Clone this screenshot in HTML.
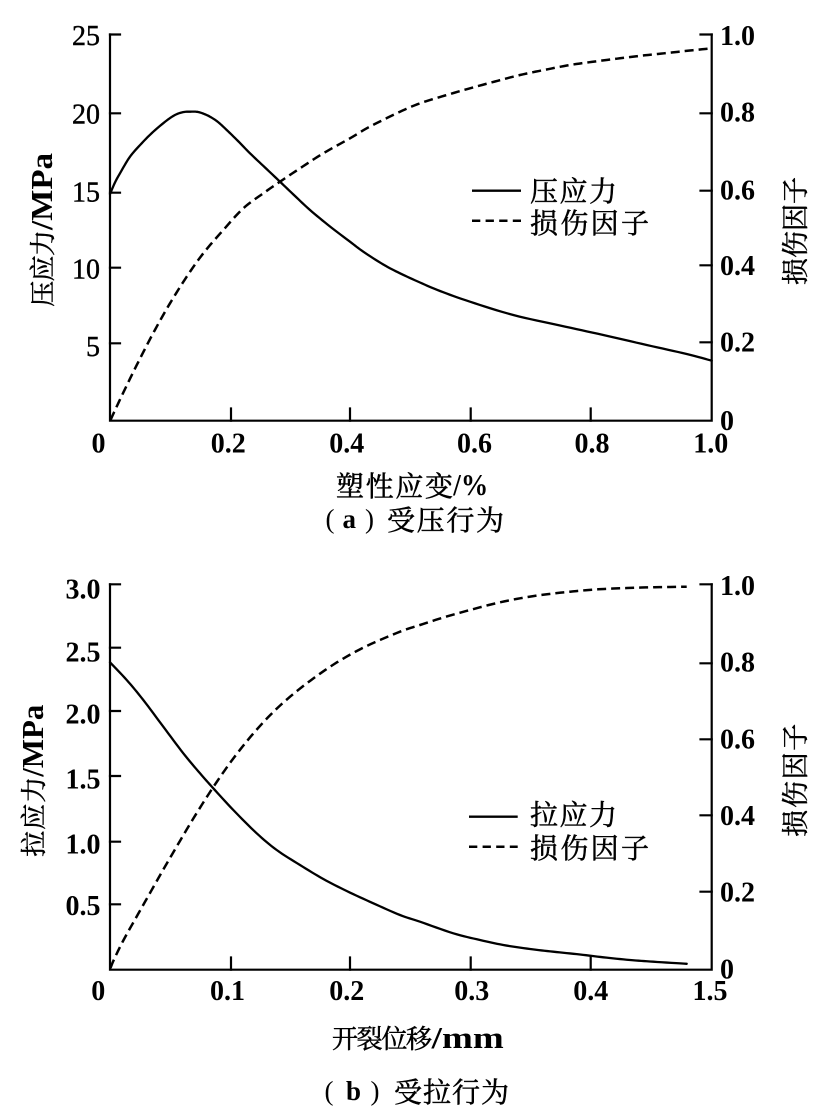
<!DOCTYPE html>
<html>
<head>
<meta charset="utf-8">
<style>
  html,body{margin:0;padding:0;background:#fff;}
  svg{display:block;}
  .num{font-family:"Liberation Serif",serif;font-size:28px;font-weight:bold;fill:#000;}
  .numr{font-family:"Liberation Serif",serif;font-size:28px;font-weight:normal;fill:#000;stroke:#000;stroke-width:0.4;}
  .cjk{font-family:"Liberation Serif","Noto Serif CJK SC","Noto Sans CJK SC",serif;fill:#000;stroke:#000;stroke-width:0.5;}
  .lat{font-family:"Liberation Serif",serif;font-weight:bold;fill:#000;}
  .ax{stroke:#000;stroke-width:2.2;fill:none;stroke-linecap:square;}
  .sol{stroke:#000;stroke-width:2.3;fill:none;stroke-linejoin:round;stroke-linecap:round;}
  .dsh{stroke:#000;stroke-width:2.5;fill:none;stroke-dasharray:9 5;stroke-linejoin:round;}
</style>
</head>
<body>
<svg width="833" height="1113" viewBox="0 0 833 1113" xmlns="http://www.w3.org/2000/svg">
<rect x="0" y="0" width="833" height="1113" fill="#fff"/>

<!-- ================= PANEL A ================= -->
<path class="ax" d="M110,34.5 V420.7 H711.7 V34.5"/>
<path class="ax" d="M110,34.5 H120 M110,113.3 H120 M110,192.7 H120 M110,267.7 H120 M110,343.3 H120"/>
<path class="ax" d="M711.7,34.5 H700.5 M711.7,113.3 H700.5 M711.7,190.7 H700.5 M711.7,265.3 H700.5 M711.7,342.3 H700.5"/>
<path class="ax" d="M231,420.7 V408.5 M350,420.7 V408.5 M470.7,420.7 V408.5 M590.7,420.7 V408.5"/>

<g class="numr" text-anchor="end">
<text x="100" y="45">25</text>
<text x="100" y="123.3">20</text>
<text x="100" y="201.7">15</text>
<text x="100" y="278.3">10</text>
<text x="100" y="356">5</text>
</g>
<g class="num" text-anchor="start">
<text x="720" y="45">1.0</text>
<text x="720" y="121.7">0.8</text>
<text x="720" y="199.3">0.6</text>
<text x="720" y="275">0.4</text>
<text x="720" y="351.7">0.2</text>
<text x="720" y="430">0</text>
</g>
<g class="num" text-anchor="middle">
<text x="98.5" y="452.5">0</text>
<text x="228.3" y="452.5">0.2</text>
<text x="346.7" y="452.5">0.4</text>
<text x="474.5" y="452.5">0.6</text>
<text x="592" y="452.5">0.8</text>
<text x="710.8" y="452.5">1.0</text>
</g>

<polyline class="sol smooth" points="110,194 115,182.5 120,173.3 130,156.7 141.7,143.3 153.3,131.7 166.7,120.5 176,114.5 184,112 190,111.7 197,111.8 203,113.5 210,116.7 218,122 226.7,130 238,141 250,153.3 265,167.5 280,181.7 295,196 310,210 330,226.5 350,241.7 363.3,251.7 383.3,264.5 400,273.3 420,282.5 440,291 470,301.7 513.3,315 560,325.5 603.3,335 646.7,345 686.7,354 711.7,360.7"/>
<polyline class="dsh smooth" points="110.5,420 120,399.5 133.3,372 146.7,345.5 156.7,326.7 170,303.3 186.7,276.7 203.3,253.3 223.3,230 243.3,208.3 263.3,193.3 280,181.7 300,168.3 323.3,153.3 350,138.3 366.7,128.3 383,120 400,111.7 420,103.3 445,95.5 470,88.3 495,81.5 520,75 545,69.8 570,65 595,61.5 620,58.3 645,55.3 670,52.7 690,50.5 711.7,48.3"/>

<line class="sol" x1="472" y1="190.7" x2="521" y2="190.7" style="stroke-linecap:butt"/>
<line class="dsh" x1="472" y1="220.7" x2="521" y2="220.7" style="stroke-dasharray:8.3 5.3"/>
<text class="cjk" x="530" y="201" font-size="28" textLength="87">压应力</text>
<text class="cjk" x="530" y="233" font-size="28" textLength="119">损伤因子</text>

<g transform="translate(52,0) rotate(-90)">
  <text class="cjk" x="-306.7" y="0" font-size="26" textLength="76.7">压应力</text>
  <text class="lat" x="-230" y="0" font-size="31" textLength="77" lengthAdjust="spacingAndGlyphs">/MPa</text>
</g>
<g transform="translate(805,0) rotate(-90)">
  <text class="cjk" x="-285" y="0" font-size="27" textLength="108">损伤因子</text>
</g>
<text class="cjk" x="336" y="496" font-size="28" textLength="117">塑性应变</text>
<text class="lat" x="453.3" y="495" font-size="31" textLength="35" lengthAdjust="spacingAndGlyphs">/%</text>

<text class="lat" x="325.5" y="528" font-size="27" style="font-weight:normal">(</text>
<text class="lat" x="342.5" y="528" font-size="27">a</text>
<text class="lat" x="365" y="528" font-size="27" style="font-weight:normal">)</text>
<text class="cjk" x="387" y="530" font-size="28" textLength="117">受压行为</text>

<!-- ================= PANEL B ================= -->
<path class="ax" d="M110,584.3 V969.7 H711.7 V584.3"/>
<path class="ax" d="M110,584.3 H120 M110,647.7 H120 M110,711 H120 M110,776 H120 M110,841.7 H120 M110,904.3 H120"/>
<path class="ax" d="M711.7,584.3 H700.5 M711.7,663.3 H700.5 M711.7,739.3 H700.5 M711.7,815.3 H700.5 M711.7,891.7 H700.5"/>
<path class="ax" d="M231,969.7 V957.5 M350,969.7 V957.5 M470.7,969.7 V957.5 M590.7,969.7 V957.5"/>

<g class="num" text-anchor="end">
<text x="100.5" y="598.3">3.0</text>
<text x="100.5" y="661.7">2.5</text>
<text x="100.5" y="723.3">2.0</text>
<text x="100.5" y="788.3">1.5</text>
<text x="100.5" y="853.3">1.0</text>
<text x="100.5" y="915">0.5</text>
</g>
<g class="num" text-anchor="start">
<text x="720" y="595">1.0</text>
<text x="720" y="671.7">0.8</text>
<text x="720" y="748.3">0.6</text>
<text x="720" y="825">0.4</text>
<text x="720" y="901.7">0.2</text>
<text x="720" y="978.3">0</text>
</g>
<g class="num" text-anchor="middle">
<text x="98.3" y="1000">0</text>
<text x="227.5" y="1000">0.1</text>
<text x="346.7" y="1000">0.2</text>
<text x="471.7" y="1000">0.3</text>
<text x="590.8" y="1000">0.4</text>
<text x="710" y="1000">1.5</text>
</g>

<polyline class="sol smooth" points="110,662.3 126.7,680 143.3,700 163.3,726.7 183.3,753.3 200,773.3 213.3,788.3 233.3,810 256.7,833.3 276.7,850 300,865 323.3,879 346.7,891 373.3,903.3 400,915 420,921.7 453.3,933.3 480,940 503.3,945 530,949 553.3,951.7 580,954.5 603.3,957.3 630,960 653.3,961.7 686.7,963.8"/>
<polyline class="dsh smooth" points="110.5,968 114,959.5 123.3,940.5 136.7,916.5 150,893 163.3,869.5 176.7,846.5 190,824 203.3,802.5 216.7,782 233.3,758.5 253.3,733.5 273.3,712 293.3,694 316.7,676 340,660.5 366.7,646 400,631.7 420,625 445,617 470,610 495,603.5 520,598.3 545,594.5 570,591.7 595,589.5 620,588.3 650,587.3 686.7,586.7"/>

<line class="sol" x1="469" y1="816.7" x2="517.7" y2="816.7" style="stroke-linecap:butt"/>
<line class="dsh" x1="469" y1="846.7" x2="517.7" y2="846.7" style="stroke-dasharray:8.3 5.3"/>
<text class="cjk" x="530" y="824.7" font-size="28" textLength="87">拉应力</text>
<text class="cjk" x="530" y="858" font-size="28" textLength="119">损伤因子</text>

<g transform="translate(43,0) rotate(-90)">
  <text class="cjk" x="-856.7" y="0" font-size="26" textLength="80">拉应力</text>
  <text class="lat" x="-776.7" y="0" font-size="31" textLength="72" lengthAdjust="spacingAndGlyphs">/MPa</text>
</g>
<g transform="translate(805,0) rotate(-90)">
  <text class="cjk" x="-836.7" y="0" font-size="27" textLength="113">损伤因子</text>
</g>
<text class="cjk" x="332" y="1048" font-size="26" textLength="100">开裂位移</text>
<text class="lat" x="431.7" y="1048" font-size="31" textLength="72" lengthAdjust="spacingAndGlyphs">/mm</text>

<text class="lat" x="324.5" y="1100" font-size="27" style="font-weight:normal">(</text>
<text class="lat" x="346" y="1100" font-size="27">b</text>
<text class="lat" x="370.5" y="1100" font-size="27" style="font-weight:normal">)</text>
<text class="cjk" x="394" y="1102" font-size="28" textLength="115">受拉行为</text>
</svg>
<script>
(function(){
  var els=document.querySelectorAll('polyline.smooth');
  for(var k=0;k<els.length;k++){
    var el=els[k];
    var raw=el.getAttribute('points').trim().split(/\s+/).map(function(s){var a=s.split(',');return [parseFloat(a[0]),parseFloat(a[1])];});
    var out=[];
    var n=raw.length;
    for(var i=0;i<n-1;i++){
      var p0=raw[Math.max(0,i-1)],p1=raw[i],p2=raw[i+1],p3=raw[Math.min(n-1,i+2)];
      var steps=8;
      for(var s=0;s<steps;s++){
        var t=s/steps,t2=t*t,t3=t2*t;
        var x=0.5*((2*p1[0])+(-p0[0]+p2[0])*t+(2*p0[0]-5*p1[0]+4*p2[0]-p3[0])*t2+(-p0[0]+3*p1[0]-3*p2[0]+p3[0])*t3);
        var y=0.5*((2*p1[1])+(-p0[1]+p2[1])*t+(2*p0[1]-5*p1[1]+4*p2[1]-p3[1])*t2+(-p0[1]+3*p1[1]-3*p2[1]+p3[1])*t3);
        out.push(x.toFixed(2)+','+y.toFixed(2));
      }
    }
    out.push(raw[n-1][0]+','+raw[n-1][1]);
    el.setAttribute('points',out.join(' '));
  }
})();
</script>
</body>
</html>
